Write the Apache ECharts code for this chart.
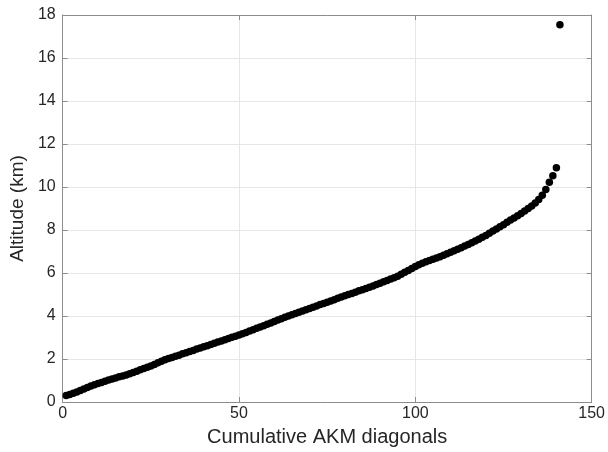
<!DOCTYPE html>
<html>
<head>
<meta charset="utf-8">
<script src="https://cdn.jsdelivr.net/npm/echarts@6/dist/echarts.min.js"></script>
<style>
  html, body { margin: 0; padding: 0; background: #fff; }
  #chart { width: 608px; height: 452px; }
</style>
</head>
<body>
<div id="chart"></div>
<script>
// Diagonal index (cumulative count) and altitude of each AKM diagonal, in km
const diagonalIndex = [
  1, 2, 3, 4, 5, 6, 7, 8, 9, 10, 11, 12, 13, 14, 15, 16, 17, 18, 19, 20,
  21, 22, 23, 24, 25, 26, 27, 28, 29, 30, 31, 32, 33, 34, 35, 36, 37, 38, 39, 40,
  41, 42, 43, 44, 45, 46, 47, 48, 49, 50, 51, 52, 53, 54, 55, 56, 57, 58, 59, 60,
  61, 62, 63, 64, 65, 66, 67, 68, 69, 70, 71, 72, 73, 74, 75, 76, 77, 78, 79, 80,
  81, 82, 83, 84, 85, 86, 87, 88, 89, 90, 91, 92, 93, 94, 95, 96, 97, 98, 99, 100,
  101, 102, 103, 104, 105, 106, 107, 108, 109, 110, 111, 112, 113, 114, 115, 116, 117, 118, 119, 120,
  121, 122, 123, 124, 125, 126, 127, 128, 129, 130, 131, 132, 133, 134, 135, 136, 137, 138, 139, 140,
  141
];
const altitudeKm = [
  0.30, 0.35, 0.41, 0.47, 0.53, 0.60, 0.67, 0.74, 0.80, 0.86,
  0.91, 0.97, 1.02, 1.07, 1.12, 1.17, 1.21, 1.26, 1.31, 1.37,
  1.43, 1.50, 1.56, 1.62, 1.68, 1.75, 1.82, 1.89, 1.96, 2.02,
  2.07, 2.13, 2.18, 2.24, 2.29, 2.35, 2.40, 2.46, 2.51, 2.57,
  2.62, 2.68, 2.73, 2.79, 2.84, 2.90, 2.95, 3.01, 3.06, 3.12,
  3.17, 3.23, 3.30, 3.36, 3.43, 3.49, 3.55, 3.62, 3.68, 3.75,
  3.81, 3.87, 3.94, 4.00, 4.06, 4.12, 4.18, 4.23, 4.29, 4.35,
  4.41, 4.47, 4.53, 4.58, 4.64, 4.70, 4.76, 4.82, 4.88, 4.94,
  5.00, 5.05, 5.11, 5.17, 5.22, 5.28, 5.34, 5.40, 5.46, 5.52,
  5.59, 5.65, 5.72, 5.78, 5.85, 5.94, 6.03, 6.12, 6.21, 6.30,
  6.38, 6.45, 6.52, 6.58, 6.64, 6.70, 6.76, 6.82, 6.89, 6.96,
  7.03, 7.11, 7.18, 7.26, 7.33, 7.41, 7.49, 7.57, 7.66, 7.75,
  7.85, 7.95, 8.05, 8.15, 8.25, 8.36, 8.46, 8.56, 8.66, 8.77,
  8.88, 9.00, 9.12, 9.26, 9.42, 9.62, 9.88, 10.22, 10.52, 10.90,
  17.55
];

const xTicks = { min: 0, max: 150, interval: 50 };
const yTicks = { min: 0, max: 18, interval: 2 };

const points = diagonalIndex.map((x, i) => [x, altitudeKm[i]]);

const FONT = "'Liberation Sans', Arial, sans-serif";
const frameColor = '#8c8c8c';
const textColor = '#262626';
const gridColor = '#e6e6e6';

const chart = echarts.init(document.getElementById('chart'), null, { renderer: 'canvas' });

const mainX = {
  type: 'value', position: 'bottom',
  min: xTicks.min, max: xTicks.max, interval: xTicks.interval,
  name: 'Cumulative AKM diagonals', nameLocation: 'middle', nameGap: 25,
  nameTextStyle: { fontFamily: FONT, fontSize: 20, color: textColor },
  axisLine: { show: true, onZero: false, lineStyle: { color: frameColor, width: 1 } },
  axisTick: { show: true, inside: true, length: 5, lineStyle: { color: frameColor } },
  axisLabel: { fontFamily: FONT, fontSize: 16, color: textColor, margin: 4 },
  splitLine: { show: true, lineStyle: { color: gridColor, width: 1 } }
};
const topX = {
  type: 'value', position: 'top',
  min: xTicks.min, max: xTicks.max, interval: xTicks.interval,
  axisLine: { show: true, onZero: false, lineStyle: { color: frameColor, width: 1 } },
  axisTick: { show: true, inside: true, length: 5, lineStyle: { color: frameColor } },
  axisLabel: { show: false },
  splitLine: { show: false }
};
const mainY = {
  type: 'value', position: 'left',
  min: yTicks.min, max: yTicks.max, interval: yTicks.interval,
  name: 'Altitude (km)', nameLocation: 'middle', nameGap: 30,
  nameTextStyle: { fontFamily: FONT, fontSize: 19, color: textColor },
  axisLine: { show: true, onZero: false, lineStyle: { color: frameColor, width: 1 } },
  axisTick: { show: true, inside: true, length: 5, lineStyle: { color: frameColor } },
  axisLabel: { fontFamily: FONT, fontSize: 16, color: textColor, margin: 7 },
  splitLine: { show: true, lineStyle: { color: gridColor, width: 1 } }
};
const rightY = {
  type: 'value', position: 'right',
  min: yTicks.min, max: yTicks.max, interval: yTicks.interval,
  axisLine: { show: true, onZero: false, lineStyle: { color: frameColor, width: 1 } },
  axisTick: { show: true, inside: true, length: 5, lineStyle: { color: frameColor } },
  axisLabel: { show: false },
  splitLine: { show: false }
};

chart.setOption({
  animation: false,
  backgroundColor: '#ffffff',
  grid: { left: 61, right: 13, top: 15, bottom: 46 },
  xAxis: [mainX, topX],
  yAxis: [mainY, rightY],
  series: [{
    type: 'scatter',
    xAxisIndex: 0,
    yAxisIndex: 0,
    data: points,
    symbol: 'circle',
    symbolSize: 7.5,
    itemStyle: { color: '#000000', opacity: 1 }
  }]
});
</script>
</body>
</html>
